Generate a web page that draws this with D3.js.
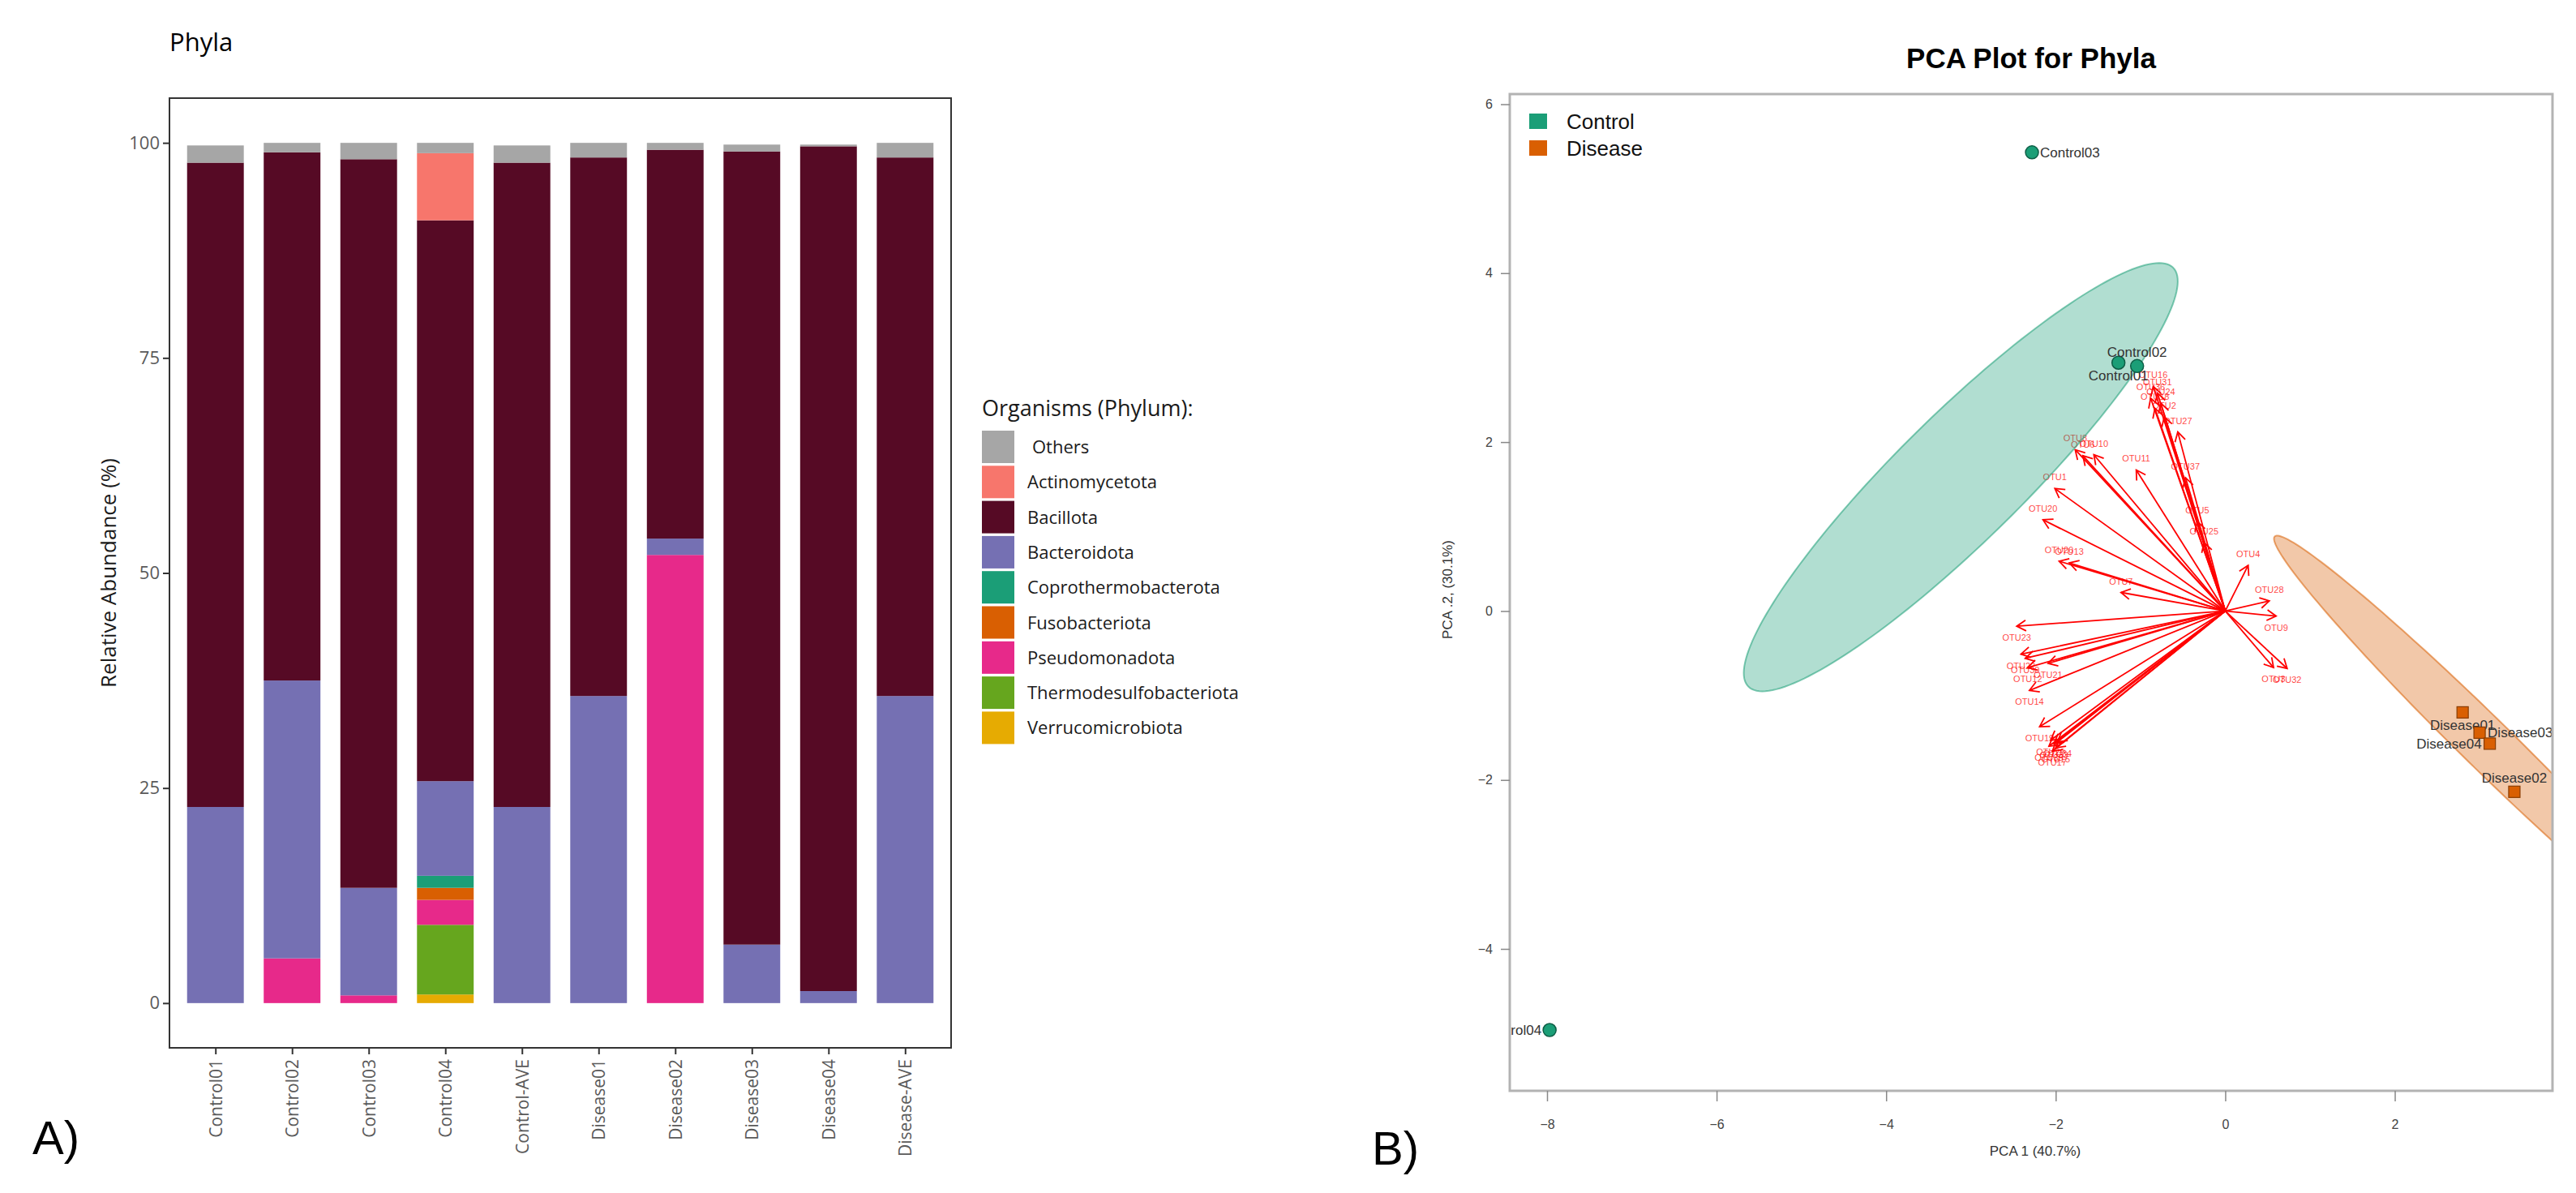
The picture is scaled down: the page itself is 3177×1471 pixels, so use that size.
<!DOCTYPE html>
<html>
<head>
<meta charset="utf-8">
<script src="https://cdn.jsdelivr.net/npm/d3@7"></script>
<style>
  html, body { margin: 0; padding: 0; background: #fff; }
  svg { display: block; }
</style>
</head>
<body>
<div id="output"></div>
<script>
// ---- Panel A data: relative abundance (%) per sample ----
var samples = ['Control01', 'Control02', 'Control03', 'Control04', 'Control-AVE',
  'Disease01', 'Disease02', 'Disease03', 'Disease04', 'Disease-AVE'];
var phyla = ['Others', 'Actinomycetota', 'Bacillota', 'Bacteroidota', 'Coprothermobacterota',
  'Fusobacteriota', 'Pseudomonadota', 'Thermodesulfobacteriota', 'Verrucomicrobiota'];
var phylaColors = ['#a6a6a6', '#f7766c', '#560a25', '#7570b3', '#1b9e77',
  '#d95f02', '#e7298a', '#66a61e', '#e6ab02'];

var others = [2.0, 1.1, 1.9, 1.2, 2.0, 1.7, 0.8, 0.8, 0.2, 1.7];
var actinomycetota = [0, 0, 0, 7.8, 0, 0, 0, 0, 0, 0];
var bacillota = [74.9, 61.4, 84.7, 65.2, 74.9, 62.6, 45.2, 92.2, 98.2, 62.6];
var bacteroidota = [22.8, 32.3, 12.5, 11.0, 22.8, 35.7, 1.9, 6.8, 1.4, 35.7];
var coprothermobacterota = [0, 0, 0, 1.4, 0, 0, 0, 0, 0, 0];
var fusobacteriota = [0, 0, 0, 1.4, 0, 0, 0, 0, 0, 0];
var pseudomonadota = [0, 5.2, 0.9, 2.9, 0, 0, 52.1, 0, 0, 0];
var thermodesulfobacteriota = [0, 0, 0, 8.1, 0, 0, 0, 0, 0, 0];
var verrucomicrobiota = [0, 0, 0, 1.0, 0, 0, 0, 0, 0, 0];
var abundanceTicks = [0, 25, 50, 75, 100];

// ---- Panel B data: PCA scores and loadings ----
var sampleIds = ['Control01', 'Control02', 'Control03', 'Control04',
  'Disease01', 'Disease02', 'Disease03', 'Disease04'];
var sampleGroups = ['Control', 'Control', 'Control', 'Control',
  'Disease', 'Disease', 'Disease', 'Disease'];
var pc1 = [-1.26, -1.04, -2.28, -7.97, 2.80, 3.41, 3.00, 3.12];
var pc2 = [2.94, 2.90, 5.43, -4.96, -1.20, -2.14, -1.44, -1.57];
var labelSide = ['below', 'above', 'right', 'left', 'below', 'above', 'right', 'left'];

var otuNames = ['OTU16', 'OTU31', 'OTU36', 'OTU24', 'OTU18', 'OTU2', 'OTU27', 'OTU37', 'OTU5', 'OTU25',
  'OTU8', 'OTU6', 'OTU10', 'OTU11', 'OTU1', 'OTU20', 'OTU26', 'OTU13', 'OTU7',
  'OTU4', 'OTU28', 'OTU9', 'OTU3', 'OTU32',
  'OTU23', 'OTU22', 'OTU30', 'OTU21', 'OTU12', 'OTU14', 'OTU19',
  'OTU29', 'OTU33', 'OTU35', 'OTU15', 'OTU17', 'OTU34'];
var otuPC1 = [-0.85, -0.80, -0.88, -0.76, -0.83, -0.72, -0.56, -0.47, -0.33, -0.25,
  -1.77, -1.68, -1.55, -1.05, -2.01, -2.15, -1.96, -1.84, -1.23,
  0.27, 0.52, 0.60, 0.57, 0.73,
  -2.46, -2.41, -2.36, -2.09, -2.33, -2.31, -2.19,
  -2.06, -2.02, -2.08, -2.00, -2.04, -1.98];
var otuPC2 = [2.66, 2.58, 2.52, 2.46, 2.40, 2.30, 2.12, 1.58, 1.06, 0.81,
  1.91, 1.84, 1.85, 1.67, 1.45, 1.08, 0.59, 0.57, 0.22,
  0.54, 0.12, -0.06, -0.67, -0.68,
  -0.18, -0.51, -0.56, -0.62, -0.67, -0.94, -1.37,
  -1.53, -1.57, -1.60, -1.62, -1.66, -1.55];

var groupNames = ['Control', 'Disease'];
var groupColors = ['#1b9e77', '#d95f02'];
var groupStrokes = ['#0e5e46', '#8a3d02'];
// confidence ellipses (centre, semi-axes, angle in degrees), in PC units
var ellipseCX = [-3.12, 3.08];
var ellipseCY = [1.585, -1.57];
var ellipseA = [3.525, 3.5];
var ellipseB = [0.745, 0.30];
var ellipseAngle = [44.7, 135.5];

var pcaXTicks = [-8, -6, -4, -2, 0, 2];
var pcaYTicks = [-4, -2, 0, 2, 4, 6];

var width = 3177;
var height = 1471;

var svg = d3.select('#output')
  .append('svg')
  .attr('width', width)
  .attr('height', height);

svg.append('rect').attr('width', width).attr('height', height).attr('fill', '#fff');

// ===================== Panel A: stacked bars =====================
var fontA = "'Open Sans', 'DejaVu Sans', sans-serif";
var panelA = {left: 209, right: 1173, top: 121, bottom: 1292};

var xA = d3.scalePoint()
  .domain(samples)
  .range([panelA.left, panelA.right])
  .padding(0.6);
var barWidth = xA.step() * 0.74;

var yA = d3.scaleLinear()
  .domain([-5.2, 105.2])
  .range([panelA.bottom, panelA.top]);

var phylumValues = [others, actinomycetota, bacillota, bacteroidota, coprothermobacterota,
  fusobacteriota, pseudomonadota, thermodesulfobacteriota, verrucomicrobiota];
var rows = samples.map(function(s, i) {
  var r = {sample: s};
  phyla.forEach(function(p, j) { r[p] = phylumValues[j][i]; });
  return r;
});

var colorA = d3.scaleOrdinal().domain(phyla).range(phylaColors);
// ggplot stacks the first legend entry on top
var series = d3.stack().keys(phyla.slice().reverse())(rows);

svg.append('g')
  .selectAll('g')
  .data(series)
  .join('g')
  .attr('fill', function(d) { return colorA(d.key); })
  .selectAll('rect')
  .data(function(d) { return d; })
  .join('rect')
  .attr('x', function(d) { return xA(d.data.sample) - barWidth / 2; })
  .attr('y', function(d) { return yA(d[1]); })
  .attr('width', barWidth)
  .attr('height', function(d) { return Math.max(0, yA(d[0]) - yA(d[1])); });

svg.append('rect')
  .attr('x', panelA.left).attr('y', panelA.top)
  .attr('width', panelA.right - panelA.left)
  .attr('height', panelA.bottom - panelA.top)
  .attr('fill', 'none').attr('stroke', '#333').attr('stroke-width', 2);

var yAxisA = svg.append('g')
  .attr('transform', 'translate(' + panelA.left + ',0)')
  .call(d3.axisLeft(yA).tickValues(abundanceTicks).tickSize(8).tickPadding(4));
yAxisA.select('.domain').remove();
yAxisA.selectAll('line').attr('stroke', '#333').attr('stroke-width', 2);
yAxisA.selectAll('text')
  .attr('font-family', fontA).attr('font-size', 22).attr('fill', '#5a5a5a');

var xAxisA = svg.append('g')
  .attr('transform', 'translate(0,' + panelA.bottom + ')')
  .call(d3.axisBottom(xA).tickSize(8));
xAxisA.select('.domain').remove();
xAxisA.selectAll('line').attr('stroke', '#333').attr('stroke-width', 2);
xAxisA.selectAll('text')
  .attr('transform', 'rotate(-90)')
  .attr('x', -14).attr('y', 0).attr('dy', '0.35em')
  .attr('text-anchor', 'end')
  .attr('font-family', fontA).attr('font-size', 21).attr('fill', '#5a5a5a');

svg.append('text')
  .attr('x', 209).attr('y', 63)
  .attr('font-family', fontA).attr('font-size', 31).attr('fill', '#000')
  .text('Phyla');

svg.append('text')
  .attr('transform', 'translate(143,' + ((panelA.top + panelA.bottom) / 2) + ') rotate(-90)')
  .attr('text-anchor', 'middle')
  .attr('font-family', fontA).attr('font-size', 26).attr('fill', '#1a1a1a')
  .text('Relative Abundance (%)');

// legend
var legendA = svg.append('g').attr('transform', 'translate(1211,0)');
legendA.append('text')
  .attr('x', 0).attr('y', 513)
  .attr('font-family', fontA).attr('font-size', 27).attr('fill', '#1a1a1a')
  .text('Organisms (Phylum):');
var keys = legendA.selectAll('g.key')
  .data(phyla)
  .join('g')
  .attr('class', 'key')
  .attr('transform', function(d, i) { return 'translate(0,' + (531 + i * 43.3) + ')'; });
keys.append('rect')
  .attr('width', 40).attr('height', 40)
  .attr('fill', function(d) { return colorA(d); });
keys.append('text')
  .attr('x', function(d) { return d === 'Others' ? 62 : 56; })
  .attr('y', 28)
  .attr('font-family', fontA).attr('font-size', 22).attr('fill', '#1a1a1a')
  .text(function(d) { return d; });

svg.append('text')
  .attr('x', 40).attr('y', 1423)
  .attr('font-family', "'Liberation Sans', Arial, sans-serif").attr('font-size', 58)
  .text('A)');

// ===================== Panel B: PCA biplot =====================
var fontB = "'Liberation Sans', Arial, Helvetica, sans-serif";
var panelB = {left: 1862, right: 3148, top: 116, bottom: 1345};

var xB = d3.scaleLinear().domain([-8.44, 3.86]).range([panelB.left, panelB.right]);
var yB = d3.scaleLinear().domain([-5.68, 6.12]).range([panelB.bottom, panelB.top]);

svg.append('clipPath').attr('id', 'clipB')
  .append('rect')
  .attr('x', panelB.left).attr('y', panelB.top)
  .attr('width', panelB.right - panelB.left)
  .attr('height', panelB.bottom - panelB.top);

var plotB = svg.append('g').attr('clip-path', 'url(#clipB)');

// loadings arrows
var headLen = 13;
var headAngle = Math.PI / 6;
var arrows = plotB.append('g');
otuNames.forEach(function(name, i) {
  var x0 = xB(0), y0 = yB(0);
  var x1 = xB(otuPC1[i]), y1 = yB(otuPC2[i]);
  var a = Math.atan2(y1 - y0, x1 - x0);
  arrows.append('line')
    .attr('x1', x0).attr('y1', y0).attr('x2', x1).attr('y2', y1)
    .attr('stroke', '#ff0000').attr('stroke-width', 1.8);
  arrows.append('path')
    .attr('d', 'M' + (x1 + headLen * Math.cos(a + Math.PI - headAngle)) + ',' +
      (y1 + headLen * Math.sin(a + Math.PI - headAngle)) +
      'L' + x1 + ',' + y1 +
      'L' + (x1 + headLen * Math.cos(a + Math.PI + headAngle)) + ',' +
      (y1 + headLen * Math.sin(a + Math.PI + headAngle)))
    .attr('fill', 'none').attr('stroke', '#ff0000').attr('stroke-width', 1.8);
  arrows.append('text')
    .attr('x', x1)
    .attr('y', otuPC2[i] >= 0 ? y1 - 10 : y1 + 18)
    .attr('text-anchor', 'middle')
    .attr('font-family', fontB).attr('font-size', 11)
    .attr('fill', '#ff0000').attr('fill-opacity', 0.75)
    .text(name);
});

// group ellipses
var ellipseLine = d3.line().curve(d3.curveLinearClosed);
groupNames.forEach(function(g, k) {
  var th = ellipseAngle[k] * Math.PI / 180;
  var pts = d3.range(0, 2 * Math.PI, Math.PI / 90).map(function(t) {
    var ex = ellipseCX[k] + ellipseA[k] * Math.cos(t) * Math.cos(th) - ellipseB[k] * Math.sin(t) * Math.sin(th);
    var ey = ellipseCY[k] + ellipseA[k] * Math.cos(t) * Math.sin(th) + ellipseB[k] * Math.sin(t) * Math.cos(th);
    return [xB(ex), yB(ey)];
  });
  plotB.append('path')
    .attr('d', ellipseLine(pts))
    .attr('fill', groupColors[k]).attr('fill-opacity', 0.34)
    .attr('stroke', groupColors[k]).attr('stroke-opacity', 0.55).attr('stroke-width', 2);
});

// sample points
var colorB = d3.scaleOrdinal().domain(groupNames).range(groupColors);
var strokeB = d3.scaleOrdinal().domain(groupNames).range(groupStrokes);
sampleIds.forEach(function(id, i) {
  var px = xB(pc1[i]), py = yB(pc2[i]);
  if (sampleGroups[i] === 'Control') {
    plotB.append('circle')
      .attr('cx', px).attr('cy', py).attr('r', 8)
      .attr('fill', colorB('Control')).attr('stroke', strokeB('Control')).attr('stroke-width', 1.5);
  } else {
    plotB.append('rect')
      .attr('x', px - 7).attr('y', py - 7).attr('width', 14).attr('height', 14)
      .attr('fill', colorB('Disease')).attr('stroke', strokeB('Disease')).attr('stroke-width', 1.2);
  }
  var side = labelSide[i];
  var lx = px, ly = py + 6, anchor = 'middle';
  if (side === 'above') { ly = py - 11; }
  if (side === 'below') { ly = py + 22; }
  if (side === 'right') { lx = px + 10; anchor = 'start'; }
  if (side === 'left') { lx = px - 10; anchor = 'end'; }
  plotB.append('text')
    .attr('x', lx).attr('y', ly)
    .attr('text-anchor', anchor)
    .attr('font-family', fontB).attr('font-size', 17).attr('fill', '#333')
    .text(id);
});

// box and axes
svg.append('rect')
  .attr('x', panelB.left).attr('y', panelB.top)
  .attr('width', panelB.right - panelB.left)
  .attr('height', panelB.bottom - panelB.top)
  .attr('fill', 'none').attr('stroke', '#b3b3b3').attr('stroke-width', 3);

var xAxisB = svg.append('g')
  .attr('transform', 'translate(0,' + panelB.bottom + ')')
  .call(d3.axisBottom(xB).tickValues(pcaXTicks).tickSize(13).tickPadding(23));
xAxisB.select('.domain').remove();
xAxisB.selectAll('line').attr('stroke', '#888').attr('stroke-width', 1.5);
xAxisB.selectAll('text')
  .attr('font-family', fontB).attr('font-size', 16).attr('fill', '#444');

var yAxisB = svg.append('g')
  .attr('transform', 'translate(' + panelB.left + ',0)')
  .call(d3.axisLeft(yB).tickValues(pcaYTicks).tickSize(11).tickPadding(10));
yAxisB.select('.domain').remove();
yAxisB.selectAll('line').attr('stroke', '#888').attr('stroke-width', 1.5);
yAxisB.selectAll('text')
  .attr('font-family', fontB).attr('font-size', 16).attr('fill', '#444');

svg.append('text')
  .attr('x', (panelB.left + panelB.right) / 2).attr('y', 84)
  .attr('text-anchor', 'middle')
  .attr('font-family', fontB).attr('font-size', 35).attr('font-weight', 'bold')
  .text('PCA Plot for Phyla');

svg.append('text')
  .attr('x', 2510).attr('y', 1425)
  .attr('text-anchor', 'middle')
  .attr('font-family', fontB).attr('font-size', 17).attr('fill', '#333')
  .text('PCA 1 (40.7%)');

svg.append('text')
  .attr('transform', 'translate(1791,727) rotate(-90)')
  .attr('text-anchor', 'middle')
  .attr('font-family', fontB).attr('font-size', 17).attr('fill', '#333')
  .text('PCA .2, (30.1%)');

// group legend
var legendB = svg.append('g').attr('transform', 'translate(1886,140)');
groupNames.forEach(function(g, k) {
  legendB.append('rect')
    .attr('x', 0).attr('y', k * 33).attr('width', 22).attr('height', 19)
    .attr('fill', colorB(g));
  legendB.append('text')
    .attr('x', 46).attr('y', k * 33 + 19)
    .attr('font-family', fontB).attr('font-size', 26).attr('fill', '#111')
    .text(g);
});

svg.append('text')
  .attr('x', 1692).attr('y', 1436)
  .attr('font-family', fontB).attr('font-size', 58)
  .text('B)');
</script>
</body>
</html>
